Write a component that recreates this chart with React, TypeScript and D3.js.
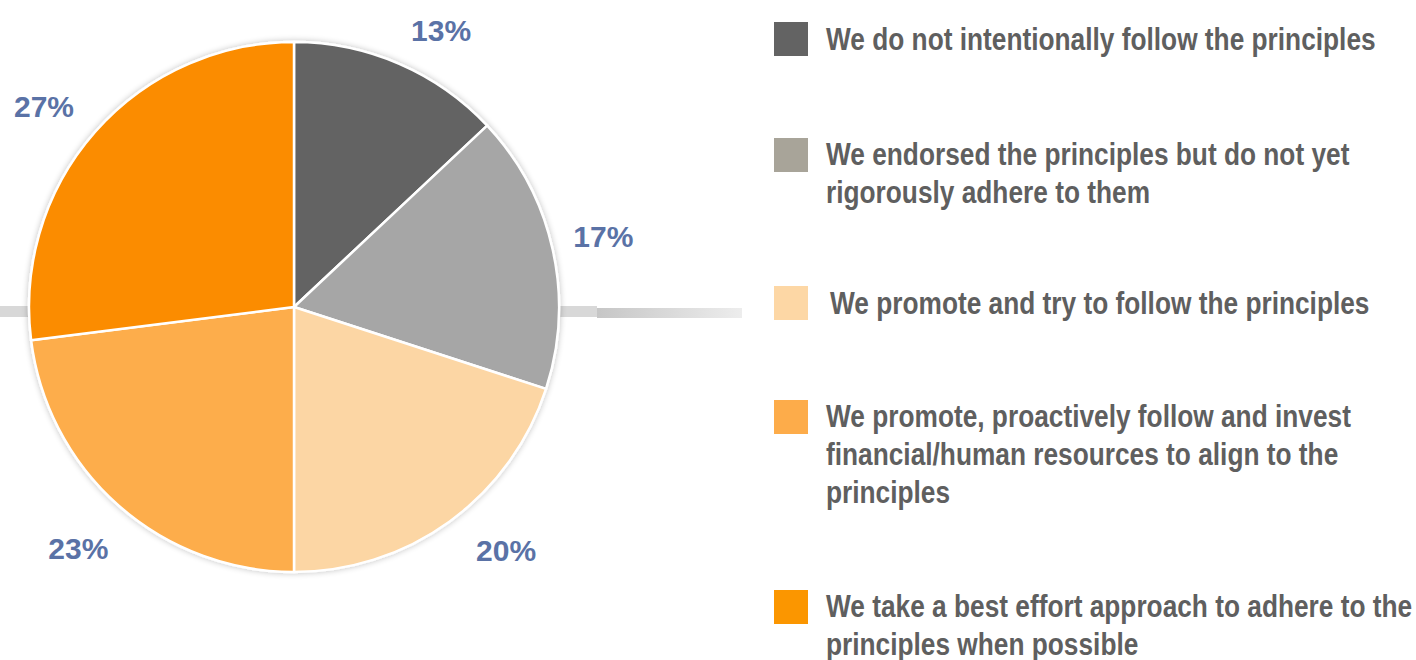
import React, { useEffect, useRef } from 'react';
import * as d3 from 'd3';

const categories = [
  'We do not intentionally follow the principles',
  'We endorsed the principles but do not yet rigorously adhere to them',
  'We promote and try to follow the principles',
  'We promote, proactively follow and invest financial/human resources to align to the principles',
  'We take a best effort approach to adhere to the principles when possible',
];
const legendLines = [
  ['We do not intentionally follow the principles'],
  ['We endorsed the principles but do not yet', 'rigorously adhere to them'],
  ['We promote and try to follow the principles'],
  ['We promote, proactively follow and invest', 'financial/human resources to align to the', 'principles'],
  ['We take a best effort approach to adhere to the', 'principles when possible'],
];
const values = [13, 17, 20, 23, 27];
const sliceColors = ['#636363', '#a6a6a6', '#fcd6a4', '#fdad4b', '#fb8c00'];
const legendColors = ['#636363', '#a8a499', '#fdd7a5', '#fdac4a', '#fb9600'];
// small nudges so the labels sit where the original placed them
const labelNudge = [[20, 17], [-3, -1], [24, -16], [-4, 1], [-10, 11]];

const W = 1416, H = 660;

export default function App() {
  const ref = useRef<SVGSVGElement>(null);

  useEffect(() => {
    const svg = d3.select(ref.current);
    svg.selectAll('*').remove();

    const defs = svg.append('defs');
    const grad = defs.append('linearGradient').attr('id', 'barGrad');
    grad.append('stop').attr('offset', '0%').attr('stop-color', '#c6c6c6');
    grad.append('stop').attr('offset', '100%').attr('stop-color', '#ededed');
    const shadow = defs.append('filter').attr('id', 'pieShadow')
      .attr('x', '-10%').attr('y', '-10%').attr('width', '120%').attr('height', '120%');
    shadow.append('feGaussianBlur').attr('in', 'SourceAlpha').attr('stdDeviation', 3);
    shadow.append('feComponentTransfer').append('feFuncA').attr('type', 'linear').attr('slope', 0.25);
    const merge = shadow.append('feMerge');
    merge.append('feMergeNode');
    merge.append('feMergeNode').attr('in', 'SourceGraphic');

    // horizontal grey bar behind the pie
    svg.append('rect').attr('x', 0).attr('y', 306).attr('width', 597).attr('height', 11).attr('fill', '#d8d8d8');
    svg.append('rect').attr('x', 597).attr('y', 308).attr('width', 145).attr('height', 10).attr('fill', 'url(#barGrad)');

    const cx = 294, cy = 307, radius = 265;
    const pie = d3.pie<number>().value(d => d).sort(null);
    const arcs = pie(values);
    const arc = d3.arc<d3.PieArcDatum<number>>().innerRadius(0).outerRadius(radius);
    const labelArc = d3.arc<d3.PieArcDatum<number>>().innerRadius(320).outerRadius(320);

    const g = svg.append('g').attr('transform', `translate(${cx},${cy})`);
    g.append('g').attr('filter', 'url(#pieShadow)')
      .selectAll('path')
      .data(arcs)
      .enter().append('path')
      .attr('d', arc)
      .attr('fill', (d, i) => sliceColors[i])
      .attr('stroke', '#fff')
      .attr('stroke-width', 2.5)
      .attr('stroke-linejoin', 'round');

    g.selectAll('text.pct')
      .data(arcs)
      .enter().append('text')
      .attr('class', 'pct')
      .attr('transform', (d, i) => {
        const [x, y] = labelArc.centroid(d);
        return `translate(${x + labelNudge[i][0]},${y + labelNudge[i][1]})`;
      })
      .attr('text-anchor', 'middle')
      .attr('dy', '0.36em')
      .attr('font-family', 'Liberation Sans, Arial, sans-serif')
      .attr('font-weight', 'bold')
      .attr('font-size', 30)
      .attr('fill', '#5a72a6')
      .text(d => `${d.data}%`);

    // legend (condensed look: measure first line and squeeze horizontally)
    const squareY = [22, 138, 286, 400, 590];
    const firstBaseline = [50, 165, 314, 427, 617];
    const textX = [826, 826, 830, 826, 826];
    const legend = svg.append('g');
    categories.forEach((c, i) => {
      legend.append('rect')
        .attr('x', 774).attr('y', squareY[i]).attr('width', 34).attr('height', 34)
        .attr('fill', legendColors[i]);
    });
    const texts = categories.map((c, i) => {
      const t = legend.append('text')
        .attr('font-family', 'Liberation Sans, Arial, sans-serif')
        .attr('font-weight', 'bold')
        .attr('font-size', 31)
        .attr('fill', '#5f5f5f');
      legendLines[i].forEach((line, j) => {
        t.append('tspan').attr('x', 0).attr('dy', j === 0 ? 0 : 38).text(line);
      });
      return t;
    });
    const firstLen = (texts[0].select('tspan').node() as SVGTextContentElement).getComputedTextLength();
    const k = firstLen > 0 ? 550 / firstLen : 0.77;
    texts.forEach((t, i) => {
      t.attr('transform', `translate(${textX[i]},${firstBaseline[i]}) scale(${k},1)`);
    });
  }, []);

  return (
    <svg ref={ref} width={W} height={H}
      style={{ position: 'absolute', left: 0, top: 0, background: '#fff' }} />
  );
}
